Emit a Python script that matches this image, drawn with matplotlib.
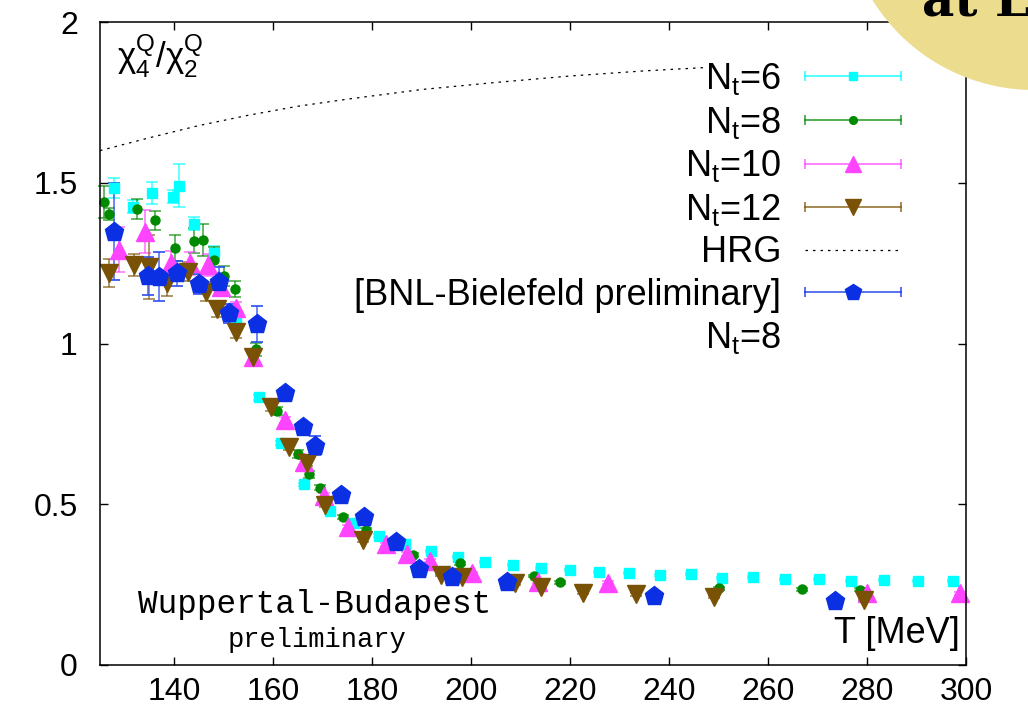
import numpy as np
import matplotlib
matplotlib.use('Agg')
from matplotlib import pyplot as plt
from matplotlib.lines import Line2D
from matplotlib.patches import Ellipse
from matplotlib.legend_handler import HandlerBase
from matplotlib.ticker import FuncFormatter

plt.rcParams['font.family'] = ['Liberation Sans', 'DejaVu Sans']
plt.rcParams['mathtext.default'] = 'regular'

# N_t=6 (cyan squares)
T6 = [127.9, 131.6, 135.6, 139.7, 141.0, 143.9, 148.1, 152.4, 157.1, 161.5, 166.2, 171.4, 176.4,
      181.3, 186.7, 191.8, 197.3, 202.9, 208.5, 214.2, 220.0, 225.8, 231.8, 238.1, 244.4, 250.6,
      257.0, 263.5, 270.2, 276.8, 283.5, 290.4, 297.4]
y6 = [1.483, 1.426, 1.467, 1.457, 1.491, 1.372, 1.283, 1.064, 0.833, 0.690, 0.562, 0.480, 0.441,
      0.402, 0.375, 0.356, 0.335, 0.321, 0.311, 0.303, 0.295, 0.288, 0.286, 0.280, 0.283, 0.271,
      0.274, 0.268, 0.268, 0.262, 0.264, 0.261, 0.262]
e6 = [0.031, 0.02, 0.034, 0.02, 0.067, 0.02, 0.02, 0.012, 0.008, 0.006, 0.005, 0.004, 0.004,
      0.004, 0.003, 0.003, 0.003, 0.003, 0.003, 0.003, 0.003, 0.003, 0.003, 0.003, 0.003, 0.003,
      0.003, 0.003, 0.003, 0.003, 0.003, 0.003, 0.003]

# N_t=8 (green circles)
T8 = [125.9, 126.9, 132.4, 136.2, 140.1, 144.0, 145.9, 148.1, 150.0, 152.2, 156.5, 160.8, 165.0,
      167.3, 169.5, 174.1, 178.7, 188.2, 197.7, 212.7, 217.9, 250.1, 266.9, 278.5]
y8 = [1.439, 1.403, 1.418, 1.383, 1.296, 1.320, 1.322, 1.260, 1.210, 1.170, 0.982, 0.790, 0.656,
      0.593, 0.551, 0.461, 0.420, 0.342, 0.316, 0.277, 0.257, 0.238, 0.235, 0.234]
e8 = [0.05, 0.02, 0.03, 0.03, 0.04, 0.04, 0.05, 0.04, 0.03, 0.025, 0.02, 0.012, 0.012,
      0.01, 0.008, 0.006, 0.006, 0.005, 0.005, 0.004, 0.004, 0.004, 0.004, 0.004]

# N_t=10 (magenta triangles)
T10 = [128.9, 134.0, 139.3, 143.2, 146.8, 149.4, 152.4, 156.0, 162.4, 166.2, 170.2, 175.2, 182.8,
       187.0, 191.6, 200.1, 213.5, 227.6, 280.0, 298.8]
y10 = [1.291, 1.348, 1.249, 1.249, 1.244, 1.177, 1.109, 0.959, 0.762, 0.632, 0.526, 0.428, 0.376,
       0.345, 0.324, 0.285, 0.259, 0.256, 0.223, 0.223]
e10 = [0.07, 0.068, 0.04, 0.035, 0.035, 0.03, 0.02, 0.015, 0.01, 0.01, 0.008, 0.006, 0.005,
       0.005, 0.005, 0.004, 0.004, 0.004, 0.004, 0.004]

# N_t=12 (brown down triangles)
T12 = [126.9, 131.9, 134.9, 138.5, 142.7, 146.4, 148.7, 152.4, 156.0, 159.5, 163.2, 166.9, 170.5,
       178.1, 193.9, 198.1, 208.8, 214.2, 222.6, 233.3, 249.0, 279.4]
y12 = [1.220, 1.244, 1.239, 1.187, 1.223, 1.161, 1.106, 1.037, 0.959, 0.803, 0.679, 0.627, 0.498,
       0.389, 0.280, 0.275, 0.254, 0.244, 0.225, 0.220, 0.211, 0.202]
e12 = [0.043, 0.034, 0.1, 0.04, 0.03, 0.03, 0.025, 0.02, 0.015, 0.012, 0.01, 0.008, 0.006,
       0.005, 0.004, 0.004, 0.004, 0.004, 0.004, 0.004, 0.004, 0.004]

# BNL-Bielefeld N_t=8 (blue pentagons)
TB = [127.9, 134.6, 137.0, 140.5, 145.0, 149.1, 151.1, 156.8, 162.4, 166.1, 168.5, 173.6, 178.4,
      184.8, 189.5, 196.1, 207.3, 236.9, 273.6]
yB = [1.348, 1.210, 1.208, 1.218, 1.185, 1.192, 1.094, 1.062, 0.845, 0.741, 0.682, 0.529, 0.459,
      0.384, 0.298, 0.273, 0.259, 0.215, 0.200]
eB = [0.15, 0.06, 0.076, 0.04, 0.03, 0.045, 0.03, 0.056, 0.017, 0.015, 0.03, 0.012, 0.012,
      0.012, 0.01, 0.01, 0.01, 0.01, 0.01]

# HRG curve
T_hrg = [125, 135, 145, 155, 165, 175, 190, 205, 220, 235, 247]
y_hrg = [1.600, 1.640, 1.678, 1.710, 1.738, 1.760, 1.790, 1.812, 1.832, 1.848, 1.858]

fig = plt.figure(figsize=(10.28, 7.22), dpi=100)
ax = fig.add_axes([100 / 1028, 57 / 722, 866 / 1028, 643 / 722])

styles = [
    (T6, y6, e6, '#00ffff', 's', 7.2, r'N$_t$=6'),
    (T8, y8, e8, '#008a00', 'o', 6.5, r'N$_t$=8'),
    (T10, y10, e10, '#ff44ff', '^', 13.5, r'N$_t$=10'),
    (T12, y12, e12, '#7a5206', 'v', 13.5, r'N$_t$=12'),
]

handles = []
handler_map = {}


class HandlerXBar(HandlerBase):
    def __init__(self, color, marker, ms):
        super().__init__()
        self.color = color
        self.marker = marker
        self.ms = ms

    def create_artists(self, legend, orig_handle, xdescent, ydescent, width, height, fontsize, trans):
        y = height / 2 - ydescent
        x0, x1 = -xdescent, width - xdescent
        line = Line2D([x0, x1], [y, y], color=self.color, lw=1.2, alpha=0.8, transform=trans)
        caps = Line2D([x0, x1], [y, y], ls='none', marker='|', ms=7, mew=1.2,
                      color=self.color, alpha=0.8, transform=trans)
        mk = Line2D([(x0 + x1) / 2], [y], ls='none', marker=self.marker, ms=self.ms * 0.85,
                    color=self.color, mec=self.color, transform=trans)
        return [line, caps, mk]


for T, y, e, c, m, ms, lab in styles:
    eb = ax.errorbar(T, y, yerr=e, fmt=m, color=c, ms=ms, mec=c, ecolor=c, elinewidth=1.2,
                     capsize=4, capthick=1.2, clip_on=False, label=lab)
    for coll in eb.lines[2]:
        coll.set_alpha(0.7)
    for cap in eb.lines[1]:
        cap.set_alpha(0.7)
    handles.append(eb)
    handler_map[eb] = HandlerXBar(c, m, ms)

hrg, = ax.plot(T_hrg, y_hrg, color='black', lw=0.9, dashes=(2, 4), label='HRG')
handles.append(hrg)

ebB = ax.errorbar(TB, yB, yerr=eB, fmt='p', color='#0b2fe3', ms=14, mec='#0b2fe3', ecolor='#2b4ff0',
                  elinewidth=1.2, capsize=4, capthick=1.2, clip_on=False,
                  label='[BNL-Bielefeld preliminary]')
for coll in ebB.lines[2]:
    coll.set_alpha(0.8)
handles.append(ebB)
handler_map[ebB] = HandlerXBar('#0b2fe3', 'p', 14)
extra = Line2D([], [], ls='none', label=r'N$_t$=8')
handles.append(extra)

leg = ax.legend(handles=handles, handler_map=handler_map, loc='upper right',
                bbox_to_anchor=(901 / 1028, 1 - 61 / 722), bbox_transform=fig.transFigure,
                frameon=False, markerfirst=False, fontsize=26, handlelength=2.67,
                handletextpad=0.64, labelspacing=0.21, borderpad=0, borderaxespad=0)

ax.set_xlim(125, 300)
ax.set_ylim(0, 2)
ax.set_xticks([140, 160, 180, 200, 220, 240, 260, 280, 300])
ax.set_yticks([0, 0.5, 1, 1.5, 2])
ax.yaxis.set_major_formatter(FuncFormatter(lambda v, p: '%g' % v))
ax.tick_params(direction='in', length=6, width=1, top=True, right=True, labelsize=23)
ax.tick_params(axis='x', pad=9)
ax.tick_params(axis='y', pad=16)
for s in ax.spines.values():
    s.set_linewidth(1.1)

ax.text(0.02, 0.983, r'χ$_4^Q$/χ$_2^Q$', transform=ax.transAxes, ha='left', va='top', fontsize=25)
ax.text(0.993, 0.034, 'T [MeV]', transform=ax.transAxes, ha='right', va='baseline', fontsize=26)
ax.text(0.248, 0.081, 'Wuppertal-Budapest', transform=ax.transAxes, ha='center', va='baseline',
        fontsize=23.5, family='Liberation Mono')
ax.text(0.250, 0.0285, 'preliminary', transform=ax.transAxes, ha='center', va='baseline',
        fontsize=19.5, family='Liberation Mono')

# yellow slide badge in the corner
fig.add_artist(Ellipse((1034 / 1028, 1 + 100 / 722), 380 / 1028, 380 / 722,
                       transform=fig.transFigure, facecolor='#ebdc8e', edgecolor='none', zorder=5))
fig.text(922 / 1028, 1 - 15 / 722, 'at L', fontsize=36, family='DejaVu Serif', weight='bold',
         ha='left', va='baseline', zorder=6)

plt.savefig('out.png', dpi=100)
